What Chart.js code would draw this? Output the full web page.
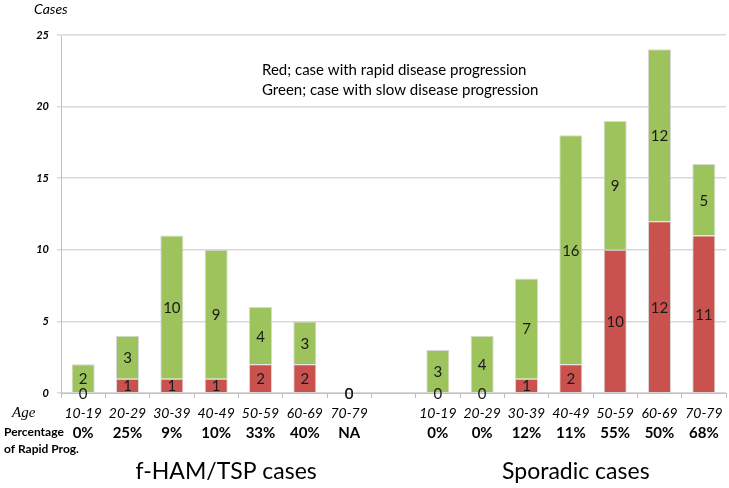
<!DOCTYPE html>
<html>
<head>
<meta charset="utf-8">
<script src="https://cdn.jsdelivr.net/npm/chart.js@4.4.0/dist/chart.umd.min.js"></script>
<style>
  html, body { margin: 0; padding: 0; background: #fff; }
  #wrap { width: 729px; height: 488px; position: relative; }
</style>
</head>
<body>
<div id="wrap"><canvas id="grafico"></canvas></div>
<script>
// dados (a categoria vazia separa os dois grupos)
const faixas = ["10-19", "20-29", "30-39", "40-49", "50-59", "60-69", "70-79", "",
                "10-19", "20-29", "30-39", "40-49", "50-59", "60-69", "70-79"];
const rapida = [0, 1, 1, 1, 2, 2, 0, null, 0, 0, 1, 2, 10, 12, 11];
const lenta  = [2, 3, 10, 9, 4, 3, 0, null, 3, 4, 7, 16, 9, 12, 5];
const percentual = ["0%", "25%", "9%", "10%", "33%", "40%", "NA", "",
                    "0%", "0%", "12%", "11%", "55%", "50%", "68%"];
const yTicks = [0, 5, 10, 15, 20, 25];
const grupos = ["f-HAM/TSP cases", "Sporadic cases"];
const legenda = ["Red; case with rapid disease progression", "Green; case with slow disease progression"];

const FONTE = "Lato, 'Open Sans', sans-serif";

// rótulos dentro das barras
const rotulosBarras = {
  id: "rotulosBarras",
  afterDatasetsDraw(chart) {
    const ctx = chart.ctx;
    ctx.save();
    ctx.font = "15px " + FONTE;
    ctx.fillStyle = "#1a1a1a";
    ctx.textAlign = "center";
    ctx.textBaseline = "middle";
    chart.data.datasets.forEach((ds, i) => {
      chart.getDatasetMeta(i).data.forEach((bar, j) => {
        const v = ds.data[j];
        if (v === null) return;
        const yc = (bar.y + bar.base) / 2;
        ctx.fillText(String(v), bar.x, yc + 1);
      });
    });
    ctx.restore();
  }
};

// textos em volta: eixo, idades, percentuais, grupos, legenda
const textos = {
  id: "textos",
  afterDraw(chart) {
    const ctx = chart.ctx;
    const x = chart.scales.x;
    ctx.save();
    ctx.fillStyle = "#000";
    ctx.textBaseline = "middle";

    ctx.textAlign = "left";
    ctx.font = "italic 14px " + FONTE;
    ctx.fillText("Cases", 34, 9);

    ctx.font = "italic 15px 'Liberation Serif', serif";
    ctx.fillText("Age", 12, 413);

    ctx.font = "bold 12px " + FONTE;
    ctx.fillText("Percentage", 4, 432);
    ctx.fillText("of Rapid Prog.", 4, 449);

    ctx.textAlign = "center";
    faixas.forEach((f, i) => {
      const px = x.getPixelForValue(i);
      ctx.font = "italic 14px " + FONTE;
      ctx.fillText(f, px, 413);
      ctx.font = "bold 15px " + FONTE;
      ctx.fillText(percentual[i], px, 433);
    });

    ctx.font = "23px " + FONTE;
    ctx.fillText(grupos[0], (x.getPixelForValue(0) + x.getPixelForValue(6)) / 2 + 10, 472);
    ctx.fillText(grupos[1], (x.getPixelForValue(8) + x.getPixelForValue(14)) / 2 + 5, 472);

    ctx.textAlign = "left";
    ctx.font = "15px " + FONTE;
    ctx.fillText(legenda[0], 262, 70);
    ctx.fillText(legenda[1], 262, 90);
    ctx.restore();
  }
};

new Chart(document.getElementById("grafico"), {
  type: "bar",
  data: {
    labels: faixas,
    datasets: [{
      label: "Rapid",
      data: rapida,
      backgroundColor: "#C9524F",
      borderColor: "rgba(200,200,200,0.7)",
      borderWidth: 1
    }, {
      label: "Slow",
      data: lenta,
      backgroundColor: "#9DC35C",
      borderColor: "rgba(200,200,200,0.7)",
      borderWidth: 1
    }]
  },
  options: {
    responsive: true,
    maintainAspectRatio: false,
    animation: false,
    layout: { padding: { left: 0, right: 3, top: 35, bottom: 90 } },
    plugins: { legend: { display: false }, tooltip: { enabled: false } },
    datasets: { bar: { categoryPercentage: 1, barPercentage: 0.52 } },
    scales: {
      x: {
        stacked: true,
        ticks: { display: false },
        grid: { drawOnChartArea: false, drawTicks: true, tickLength: 5, color: "#BFBFBF", offset: true },
        border: { color: "#BFBFBF" },
        afterFit(s) { s.height = 5; }
      },
      y: {
        stacked: true,
        min: 0,
        max: 25,
        afterBuildTicks(s) { s.ticks = yTicks.map(v => ({ value: v })); },
        ticks: {
          padding: 8,
          color: "#000",
          font: { family: FONTE, size: 11, style: "italic", weight: "bold" }
        },
        grid: { color: "#D9D9D9", tickLength: 4, lineWidth: 1.5 },
        border: { color: "#BFBFBF" },
        afterFit(s) { s.width = 61; }
      }
    }
  },
  plugins: [rotulosBarras, textos]
});
</script>
</body>
</html>
